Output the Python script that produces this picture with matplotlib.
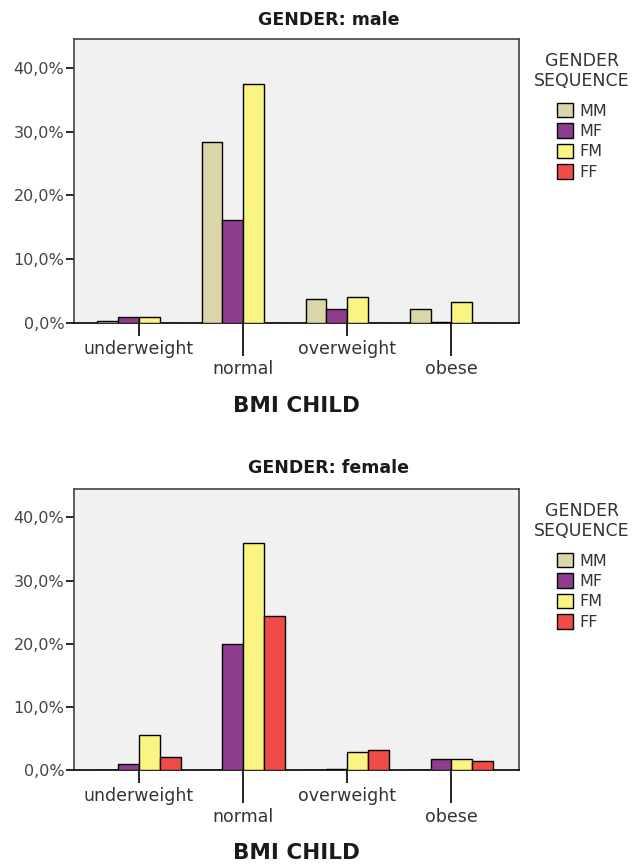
import matplotlib
matplotlib.use("Agg")
import matplotlib.pyplot as plt
from matplotlib.patches import Patch
from matplotlib.ticker import FuncFormatter

# BMI categories of the child, percent of all children per gender panel
categories = ['underweight', 'normal', 'overweight', 'obese']
sequences = ['MM', 'MF', 'FM', 'FF']
colors = ['#DAD6A7', '#8E3C8E', '#FAF582', '#F04B46']

male_mm = [0.3, 28.4, 3.8, 2.2]
male_mf = [0.9, 16.1, 2.2, 0.2]
male_fm = [0.9, 37.4, 4.1, 3.3]
male_ff = [0.0, 0.0, 0.0, 0.0]

female_mm = [0.0, 0.0, 0.0, 0.0]
female_mf = [0.9, 20.0, 0.1, 1.7]
female_fm = [5.5, 36.0, 2.9, 1.7]
female_ff = [2.0, 24.4, 3.2, 1.4]

panels = [
    ('GENDER: male', [male_mm, male_mf, male_fm, male_ff]),
    ('GENDER: female', [female_mm, female_mf, female_fm, female_ff]),
]

W, H = 638, 867
fig = plt.figure(figsize=(W / 100, H / 100), dpi=100)
fig.patch.set_facecolor('white')
plt.rcParams['font.family'] = 'DejaVu Sans'

# pixel layout of each panel: axes top, axes bottom, title y, x-label y
layout = [(39, 323, 20, 406), (489, 770, 468, 853)]
ax_left, ax_right = 74, 519

xs = list(range(len(categories)))
offsets = [-0.4, -0.2, 0.0, 0.2]
pct = FuncFormatter(lambda v, p: ('%.1f%%' % v).replace('.', ','))

for (title, series), (top, bottom, ty, ly) in zip(panels, layout):
    ax = fig.add_axes([ax_left / W, 1 - bottom / H,
                       (ax_right - ax_left) / W, (bottom - top) / H])
    ax.set_facecolor('#F1F1F1')
    for vals, off, col in zip(series, offsets, colors):
        ax.bar([x + off for x in xs], vals, width=0.2, align='edge',
               color=col, edgecolor='black', linewidth=1.0, zorder=3)
    ax.set_xlim(-0.625, 3.65)
    ax.set_ylim(0, 44.5)
    ax.set_yticks([0, 10, 20, 30, 40])
    ax.yaxis.set_major_formatter(pct)
    ax.tick_params(axis='y', length=6, width=1.2, pad=1,
                   labelsize=11.5, labelcolor='#444444')

    # staggered category labels: short ticks on top row, long ticks below
    ax.set_xticks([0, 2])
    ax.set_xticklabels([categories[0], categories[2]])
    ax.set_xticks([1, 3], minor=True)
    ax.set_xticklabels([categories[1], categories[3]], minor=True)
    ax.tick_params(axis='x', which='major', length=9, width=1.2, pad=3,
                   labelsize=12.5, labelcolor='#333333')
    ax.tick_params(axis='x', which='minor', length=24, width=1.2, pad=3,
                   labelsize=12.5, labelcolor='#333333')
    for s in ax.spines.values():
        s.set_color('#444444')
        s.set_linewidth(1.2)
    ax.spines['bottom'].set_color('black')

    fig.text(329 / W, 1 - ty / H, title, ha='center', va='center',
             fontsize=12.5, fontweight='bold', color='#1a1a1a')
    fig.text((ax_left + ax_right) / 2 / W, 1 - ly / H, 'BMI CHILD',
             ha='center', va='center', fontsize=15.5, fontweight='bold',
             color='#1a1a1a')

    # legend title drawn separately so it can sit centered above the keys
    fig.text(582 / W, 1 - (top + 32) / H, 'GENDER\nSEQUENCE',
             ha='center', va='center', multialignment='center',
             fontsize=12.5, linespacing=1.1, color='#333333')
    handles = [Patch(facecolor=c, edgecolor='black', linewidth=1.0)
               for c in colors]
    leg = fig.legend(handles, sequences, loc='upper left',
                     bbox_to_anchor=(557 / W, 1 - (top + 64) / H),
                     frameon=False, fontsize=11.5,
                     handlelength=1.0, handleheight=1.0, handletextpad=0.4,
                     labelspacing=0.3, borderpad=0, borderaxespad=0)
    for t in leg.get_texts():
        t.set_color('#333333')

fig.savefig('out.png', dpi=100)
